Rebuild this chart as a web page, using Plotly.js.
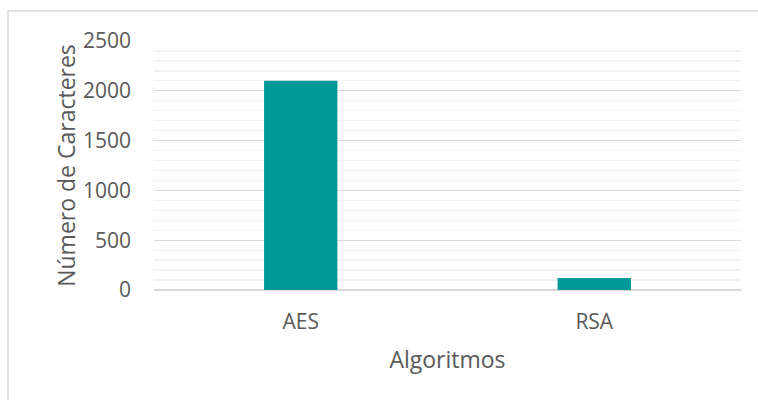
<!DOCTYPE html>
<html>
<head>
<meta charset="utf-8">
<script src="https://cdn.plot.ly/plotly-3.0.1.min.js"></script>
<style>
html,body{margin:0;padding:0;background:#fff;}
#chart{width:758px;height:400px;}
</style>
</head>
<body>
<div id="chart"></div>
<script>
const categories = ["AES", "RSA"];
const values = [2100, 120];
const yTickVals = [0, 500, 1000, 1500, 2000, 2500];
const yTickText = ["0", "500", "1000", "1500", "2000", "2500"];

const font = "Open Sans, Liberation Sans, sans-serif";
const textColor = "#595959";

const trace = {
  type: "bar",
  x: categories,
  y: values,
  marker: {color: "#009999"},
  hoverinfo: "x+y"
};

const layout = {
  width: 758,
  height: 400,
  margin: {l: 154, r: 17, t: 41, b: 110},
  paper_bgcolor: "#ffffff",
  plot_bgcolor: "#ffffff",
  bargap: 0.75,
  showlegend: false,
  font: {family: font, color: textColor, size: 21},
  xaxis: {
    type: "category",
    showgrid: false,
    showline: false,
    zeroline: false,
    ticks: "",
    ticklabelstandoff: 17,
    tickfont: {family: font, size: 21, color: textColor},
    title: {text: "Algoritmos", font: {family: font, size: 23, color: textColor}, standoff: 17}
  },
  yaxis: {
    range: [0, 2500],
    tickvals: yTickVals,
    ticktext: yTickText,
    showgrid: true,
    gridcolor: "#d9d9d9",
    gridwidth: 1.3,
    zeroline: true,
    zerolinecolor: "#d9d9d9",
    zerolinewidth: 1.5,
    showline: false,
    ticks: "",
    ticklen: 0,
    ticklabelstandoff: 22,
    tickfont: {family: font, size: 21, color: textColor},
    minor: {dtick: 100, showgrid: true, gridcolor: "#f2f2f2", gridwidth: 1.3, ticks: ""},
    title: {text: "Número de Caracteres", font: {family: font, size: 23, color: textColor}, standoff: 0}
  },
  shapes: [{
    type: "rect",
    xref: "paper", yref: "paper",
    x0: -0.2487, x1: 2, y0: -2, y1: 1.1205,
    line: {color: "#d9d9d9", width: 1.5},
    fillcolor: "rgba(0,0,0,0)",
    layer: "below"
  }]
};

Plotly.newPlot("chart", [trace], layout, {displayModeBar: false, staticPlot: true});
</script>
</body>
</html>
